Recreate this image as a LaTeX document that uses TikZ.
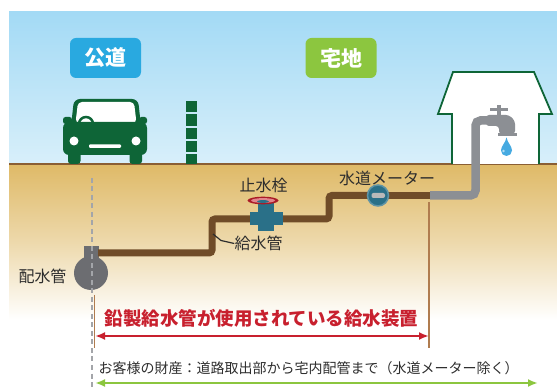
\documentclass[tikz,border=0pt]{standalone}
\usepackage{fontspec}
\setmainfont{Noto Sans CJK JP}
\usetikzlibrary{arrows.meta}
\usetikzlibrary{positioning}
\definecolor{himmel}{RGB}{163,218,245}
\definecolor{himmelhell}{RGB}{216,239,250}
\definecolor{erde}{RGB}{223,186,104}
\definecolor{erdlinie}{RGB}{138,94,52}
\definecolor{rohrbraun}{RGB}{112,76,40}
\definecolor{linienbraun}{RGB}{176,124,79}
\definecolor{autogruen}{RGB}{14,101,55}
\definecolor{blaulabel}{RGB}{41,169,224}
\definecolor{gruenlabel}{RGB}{140,198,63}
\definecolor{petrol}{RGB}{42,112,136}
\definecolor{rotbeschr}{RGB}{200,32,46}
\definecolor{rohrgrau}{RGB}{140,143,148}
\definecolor{dunkelgrau}{RGB}{108,109,113}
\definecolor{textgrau}{RGB}{45,45,45}
\definecolor{tropfen}{RGB}{70,170,225}

\tikzset{
  schild/.style={rounded corners=6pt, text=white, inner sep=0pt,
    minimum width=71pt, minimum height=40pt, font=\fontsize{21}{21}\selectfont\bfseries},
  beschr/.style={text=textgrau, inner sep=0pt, font=\fontsize{16}{16}\selectfont},
  rohr/.style={draw=rohrbraun, line width=7pt, rounded corners=3pt},
  grohr/.style={draw=rohrgrau, line width=8.5pt, rounded corners=5pt},
  masspfeil/.style={line width=2pt, {Latex[length=10pt,width=8pt]}-{Latex[length=10pt,width=8pt]}},
}

\begin{document}
\begin{tikzpicture}[x=1pt,y=-1pt] % Pixelkoordinaten, y nach unten
    \useasboundingbox (0,0) rectangle (557,387);

    % Himmel und Erdreich
    \shade[top color=himmel, bottom color=himmelhell] (9,12) rectangle (557,164);
    \shade[top color=erde, bottom color=white, middle color=erde!55] (9,165) rectangle (557,320);
    \draw[erdlinie, line width=2pt] (9,164.5) -- (557,164.5);

    % Beschriftungsschilder
    \node[schild, fill=blaulabel] (strasse) at (105.5,58) {公道};
    \node[schild, fill=gruenlabel] (grund) at (341,58) {宅地};

    % Auto
    \fill[autogruen, rounded corners=6pt] (71,126) -- (74,99) -- (138,99) -- (141,126) -- cycle;
    \fill[white, rounded corners=4pt] (75.5,123) -- (78,102) -- (134,102) -- (136.5,123) -- cycle;
    \draw[autogruen, line width=2.5pt] (79,124) arc[start angle=180, end angle=360, radius=7];
    \fill[autogruen, rounded corners=2.5pt] (63,117) rectangle (72,124);
    \fill[autogruen, rounded corners=2.5pt] (139,117) rectangle (147,124);
    \fill[autogruen, rounded corners=6pt] (63,122) rectangle (147,155);
    \fill[autogruen, rounded corners=3pt] (68,148) rectangle (80.5,164);
    \fill[autogruen, rounded corners=3pt] (129.5,148) rectangle (142,164);
    \fill[white] (74,141) circle (4.5) (136,141) circle (4.5);
    \fill[white, rounded corners=1pt] (89,144.5) rectangle (121,148);

    % Grenzpfahl
    \foreach \ya/\yb in {101/112, 114/126.5, 128.5/139.5, 141.5/152, 154/164} {
        \fill[autogruen] (186,\ya) rectangle (197,\yb);
    }

    % Haus
    \draw[autogruen, line width=1.8pt, fill=white, line join=miter]
        (452,164) -- (452,114) -- (438,114) -- (453,72) -- (534,72) -- (552,114) -- (539,114) -- (539,164);

    % Wasserhahn
    \coordinate (hahn) at (492,120.5);
    \fill[rohrgrau, rounded corners=3pt] (486,115) -- (509,115) -- (515,121) -- (515,134) -- (499,134) -- (499,126) -- (486,126) -- cycle;
    \fill[rohrgrau] (497.5,133) rectangle (517,136);
    \fill[rohrgrau] (497,105) rectangle (501,116);
    \fill[rohrgrau] (490,108) rectangle (508,111);
    \fill[tropfen] (506.5,137.5) .. controls (507.5,143) and (512,146) .. (512,150.5)
        arc[start angle=0, end angle=180, radius=5.5] .. controls (501,146) and (505.5,143) .. cycle;
    \fill[white, opacity=0.6] (503.5,151) circle (1.3);

    % Hauptleitung
    \fill[dunkelgrau] (84,246) rectangle (99,265);
    \fill[dunkelgrau] (91,273) circle (17);
    \draw[rohrgrau!80!white, line width=2.5pt, dash pattern=on 5pt off 3.5pt] (92,178) -- (92,387);
    \node[beschr] (hauptrohr) at (42.5,276) {配水管};

    % Leitungsfuehrung
    \coordinate (abzweig) at (98,253);
    \coordinate (ventil) at (266,219);
    \coordinate (zaehler) at (378,195.5);
    \coordinate (grenze) at (430,195.5);
    \draw[rohr] (abzweig) -- (212,253) -- (212,219) -- (ventil);
    \draw[rohr] (ventil) -- (329,219) -- (329,195.5) -- (zaehler);
    \draw[rohr, rounded corners=0pt] (zaehler) -- (grenze);
    \draw[grohr] (grenze) -- (475.5,195.5) -- (475.5,120.5) -- (hahn);

    % Absperrventil
    \fill[petrol] (250,212) rectangle (283,225.5);
    \fill[petrol] (258,203) rectangle (274,231);
    \fill[rotbeschr!85!black] (263,200.5) ellipse [x radius=15.5, y radius=3.8];
    \fill[rotbeschr!55!white] (263,200.5) ellipse [x radius=12, y radius=2.4];
    \fill[petrol] (263,201.5) ellipse [x radius=6, y radius=1.4];
    \node[beschr] (absperr) at (263.5,185) {止水栓};

    % Wasserzaehler
    \draw[petrol!75!white, fill=petrol, line width=1.5pt] (zaehler) circle (10.5);
    \fill[gray!55!white, rounded corners=2pt] (371.5,193) rectangle (385,198);
    \node[beschr] (zaehlertext) at (387,178) {水道メーター};

    % Zuleitung
    \node[beschr] (zuleitung) at (258.5,243.5) {給水管};
    \coordinate (zuleitungspunkt) at (213,234);
    \draw[textgrau, line width=1.2pt] (zuleitungspunkt) -- (221,240.5) -- (zuleitung.west);

    % Bereichsgrenzen und Pfeile
    \coordinate (links) at (95,336);
    \coordinate (rechts) at (429,336);
    \draw[linienbraun, line width=1.5pt] (94.5,295) -- (94.5,348);
    \draw[linienbraun, line width=1.5pt] (429,202) -- (429,348);
    \node[text=rotbeschr, inner sep=0pt, font=\fontsize{18.5}{18.5}\selectfont\bfseries] (bleirohr) at (261.5,318) {鉛製給水管が使用されている給水装置};
    \draw[rotbeschr, masspfeil] (links) -- (rechts);

    \coordinate (eigenlinks) at (95,383);
    \coordinate (eigenrechts) at (538,383);
    \node[text=textgrau, inner sep=0pt, font=\fontsize{14}{14}\selectfont] (eigentum) at (308.5,368) {お客様の財産：道路取出部から宅内配管まで（水道メーター除く）};
    \draw[gruenlabel, masspfeil] (eigenlinks) -- (eigenrechts);
\end{tikzpicture}
\end{document}
